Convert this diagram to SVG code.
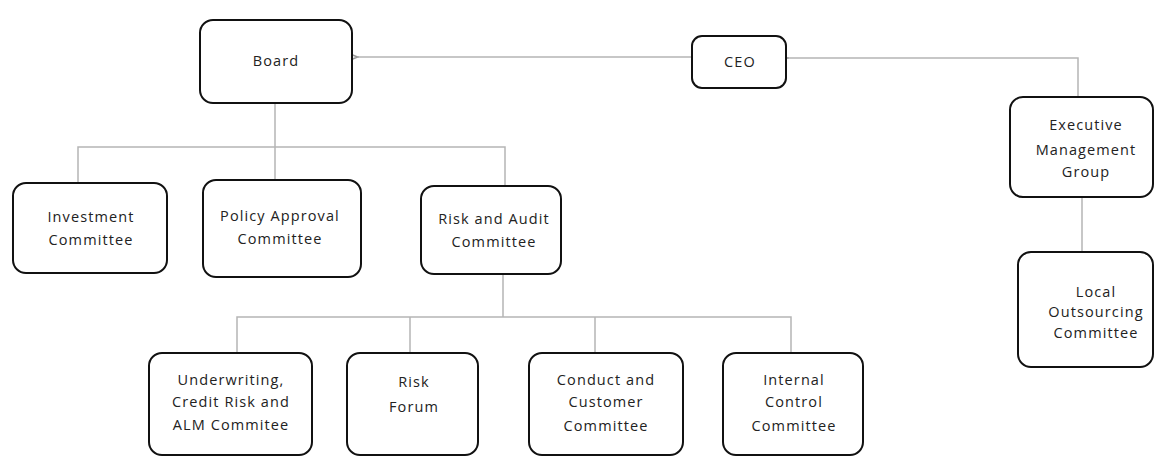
<svg xmlns="http://www.w3.org/2000/svg" width="1156" height="459" viewBox="0 0 1156 459">
<style>
.box{fill:#fff;stroke:#111;stroke-width:2}
.t{font-family:"Open Sans","Liberation Sans",sans-serif;font-size:14.5px;letter-spacing:1.1px;fill:#222;text-anchor:middle}
.c{fill:none;stroke:#b5b5b5;stroke-width:1.5}
</style>
<defs>
<marker id="ah" markerWidth="12" markerHeight="10" refX="1" refY="5" orient="auto" markerUnits="userSpaceOnUse">
<path d="M10,1.5 L1.5,5 L10,8.5" fill="none" stroke="#999" stroke-width="1.4"/>
</marker>
</defs>
<rect width="1156" height="459" fill="#fff"/>
<g id="connectors">
<path class="c" d="M692,57 L358,57" marker-end="url(#ah)"/>
<path class="c" d="M1078,97 L1078,58 L788,58" marker-end="url(#ah)"/>
<path class="c" d="M275,103 L275,147"/>
<path class="c" d="M78,183 L78,147 L505,147 L505,186"/>
<path class="c" d="M275,147 L275,180"/>
<path class="c" d="M503,274 L503,317"/>
<path class="c" d="M237,353 L237,317 L791,317 L791,353"/>
<path class="c" d="M410,317 L410,353"/>
<path class="c" d="M595,317 L595,353"/>
<path class="c" d="M1082,197 L1082,252"/>
</g>
<g id="board">
<rect class="box" x="200" y="20" width="152" height="83" rx="13"/>
<text class="t" x="276" y="66">Board</text>
</g>
<g id="ceo">
<rect class="box" x="692" y="36" width="94" height="52" rx="10"/>
<text class="t" x="740" y="67">CEO</text>
</g>
<g id="investment">
<rect class="box" x="13" y="183" width="154" height="90" rx="13"/>
<text class="t" x="91" y="222">Investment</text>
<text class="t" x="91" y="245">Committee</text>
</g>
<g id="policy">
<rect class="box" x="203" y="180" width="158" height="97" rx="13"/>
<text class="t" x="280" y="221">Policy Approval</text>
<text class="t" x="280" y="244">Committee</text>
</g>
<g id="riskaudit">
<rect class="box" x="421" y="186" width="140" height="88" rx="13"/>
<text class="t" x="494" y="224">Risk and Audit</text>
<text class="t" x="494" y="247">Committee</text>
</g>
<g id="underwriting">
<rect class="box" x="149" y="353" width="163" height="102" rx="13"/>
<text class="t" x="231" y="385">Underwriting,</text>
<text class="t" x="231" y="407">Credit Risk and</text>
<text class="t" x="231" y="430">ALM Commitee</text>
</g>
<g id="riskforum">
<rect class="box" x="347" y="353" width="131" height="102" rx="13"/>
<text class="t" x="414" y="387">Risk</text>
<text class="t" x="414" y="412">Forum</text>
</g>
<g id="conduct">
<rect class="box" x="529" y="353" width="154" height="102" rx="13"/>
<text class="t" x="606" y="385">Conduct and</text>
<text class="t" x="606" y="407">Customer</text>
<text class="t" x="606" y="431">Committee</text>
</g>
<g id="internal">
<rect class="box" x="723" y="353" width="140" height="102" rx="13"/>
<text class="t" x="794" y="385">Internal</text>
<text class="t" x="794" y="407">Control</text>
<text class="t" x="794" y="431">Committee</text>
</g>
<g id="emg">
<rect class="box" x="1010" y="97" width="143" height="100" rx="13"/>
<text class="t" x="1086" y="130">Executive</text>
<text class="t" x="1086" y="155">Management</text>
<text class="t" x="1086" y="177">Group</text>
</g>
<g id="local">
<rect class="box" x="1018" y="252" width="135" height="115" rx="13"/>
<text class="t" x="1096" y="297">Local</text>
<text class="t" x="1096" y="317">Outsourcing</text>
<text class="t" x="1096" y="338">Committee</text>
</g>
</svg>
